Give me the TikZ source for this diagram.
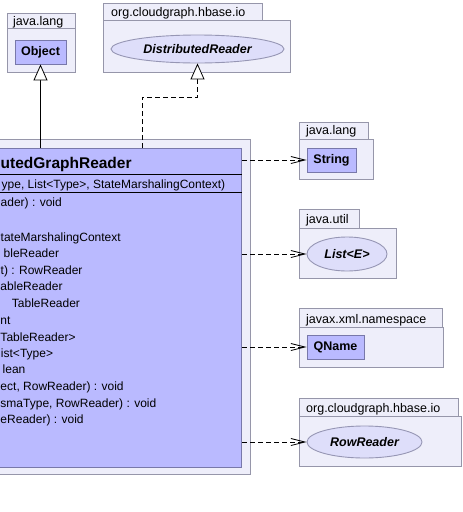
\documentclass[tikz,border=0pt]{standalone}
\usepackage{fontspec}
\setmainfont{Liberation Sans}
\usetikzlibrary{arrows.meta,shapes.geometric}
\definecolor{pkgfill}{RGB}{238,238,250}
\definecolor{pkgdraw}{RGB}{150,150,170}
\definecolor{clsfill}{RGB}{186,186,255}
\definecolor{clsdraw}{RGB}{120,120,170}
\definecolor{ifcfill}{RGB}{222,222,250}
\definecolor{ifcdraw}{RGB}{150,150,180}
\tikzset{
  pkg/.style={draw=pkgdraw, fill=pkgfill, line width=0.9pt},
  pkglabel/.style={font=\fontsize{12.5}{14}\selectfont, anchor=base west, inner sep=0pt},
  clsbox/.style={draw=clsdraw, fill=clsfill, line width=0.9pt, inner sep=0pt,
    font=\fontsize{12.5}{14}\selectfont\bfseries},
  ifcbox/.style={ellipse, draw=ifcdraw, fill=ifcfill, line width=0.9pt, inner sep=0pt,
    font=\fontsize{12.5}{14}\selectfont\bfseries\itshape},
  member/.style={font=\fontsize{12}{14}\selectfont, anchor=base west, inner sep=0pt},
  depend/.style={dashed, dash pattern=on 5pt off 3pt, line width=0.8pt,
    -{Straight Barb[length=14pt,width=7pt,line width=0.8pt]}},
  realize/.style={dashed, dash pattern=on 5pt off 3pt, line width=0.8pt,
    -{Triangle[open,length=16pt,width=14pt,line width=0.8pt,fill=white]}},
  inherit/.style={line width=0.9pt,
    -{Triangle[open,length=16pt,width=14pt,line width=0.8pt,fill=white]}},
}
\begin{document}
\begin{tikzpicture}[x=1pt,y=-1pt]
\useasboundingbox (0,0) rectangle (463,512);
\fill[white] (0,0) rectangle (463,512);
\clip (0,0) rectangle (463,512);

% ---- package java.lang (Object)
\draw[pkg] (7.5,13) rectangle (75.5,28);
\draw[pkg] (7.5,28) rectangle (75.5,72);
\node[pkglabel] (lbl1) at (13,25) {java.lang};
\node[clsbox, minimum width=51pt, minimum height=24pt] (object) at (40.5,52) {Object};

% ---- package org.cloudgraph.hbase.io (DistributedReader)
\draw[pkg] (103.5,3) rectangle (262.5,20);
\draw[pkg] (103.5,20) rectangle (290.5,72);
\node[pkglabel] (lbl2) at (111,16) {org.cloudgraph.hbase.io};
\node[ifcbox, minimum width=173pt, minimum height=28pt] (dreader) at (197.5,49) {DistributedReader};

% ---- main package + class
\draw[pkg] (-300,139) rectangle (250,474);
\node[clsbox, anchor=north east, minimum width=540pt, minimum height=319pt] (main) at (242,148) {};
\draw[line width=0.9pt] (main.west |- 0,174) -- (main.east |- 0,174);
\draw[line width=0.9pt] (main.west |- 0,192) -- (main.east |- 0,192);
\node[member, font=\fontsize{15.5}{18}\selectfont\bfseries] (title) at (0.5,168.5) {utedGraphReader};
\node[member] (m1) at (1.5,188.5) {ype, List<Type>, StateMarshalingContext)};
\node[member] (m2) at (0.5,206.5) {ader) : void};
\node[member] (m3) at (0.5,241.5) {tateMarshalingContext};
\node[member] (m4) at (3.5,257.5) {bleReader};
\node[member] (m5) at (0.5,274.5) {t) : RowReader};
\node[member] (m6) at (0.3,290.5) {ableReader};
\node[member] (m7) at (11.7,307.5) {TableReader};
\node[member] (m8) at (0.3,324.5) {nt};
\node[member] (m9) at (0.3,341.5) {TableReader>};
\node[member] (m10) at (0.8,357.5) {ist<Type>};
\node[member] (m11) at (2.5,373.5) {lean};
\node[member] (m12) at (0.3,390.5) {ect, RowReader) : void};
\node[member] (m13) at (0.3,407.5) {smaType, RowReader) : void};
\node[member] (m14) at (0.3,423.5) {eReader) : void};

% ---- package java.lang (String)
\draw[pkg] (299.5,122) rectangle (368.5,139);
\draw[pkg] (299.5,139) rectangle (373.5,179);
\node[pkglabel] (lbl3) at (306,134.5) {java.lang};
\node[clsbox, minimum width=49pt, minimum height=24pt] (string) at (331.5,160) {String};

% ---- package java.util (List<E>)
\draw[pkg] (299.5,209) rectangle (359.5,228);
\draw[pkg] (299.5,228) rectangle (396.5,278);
\node[pkglabel] (lbl4) at (306,223) {java.util};
\node[ifcbox, minimum width=80pt, minimum height=34pt] (list) at (347,254) {List<E>};

% ---- package javax.xml.namespace (QName)
\draw[pkg] (299.5,308) rectangle (442.5,327);
\draw[pkg] (299.5,327) rectangle (443.5,367);
\node[pkglabel] (lbl5) at (306,323) {javax.xml.namespace};
\node[clsbox, minimum width=57pt, minimum height=24pt] (qname) at (335.5,347) {QName};

% ---- package org.cloudgraph.hbase.io (RowReader)
\draw[pkg] (299.5,398) rectangle (458.5,416);
\draw[pkg] (299.5,416) rectangle (461.5,466);
\node[pkglabel] (lbl6) at (306,412) {org.cloudgraph.hbase.io};
\node[ifcbox, minimum width=115pt, minimum height=32pt] (rowreader) at (364.5,442) {RowReader};

% ---- connectors
\draw[inherit] (main.north -| object.south) -- (object.south);
\coordinate (bend1) at (142,97);
\draw[realize] (main.north -| bend1) -- (bend1) -| (dreader.south);
\draw[depend] (main.east |- string.west) -- (string.west);
\draw[depend] (main.east |- list.west) -- (list.west);
\draw[depend] (main.east |- qname.west) -- (qname.west);
\draw[depend] (main.east |- rowreader.west) -- (rowreader.west);
\end{tikzpicture}
\end{document}
